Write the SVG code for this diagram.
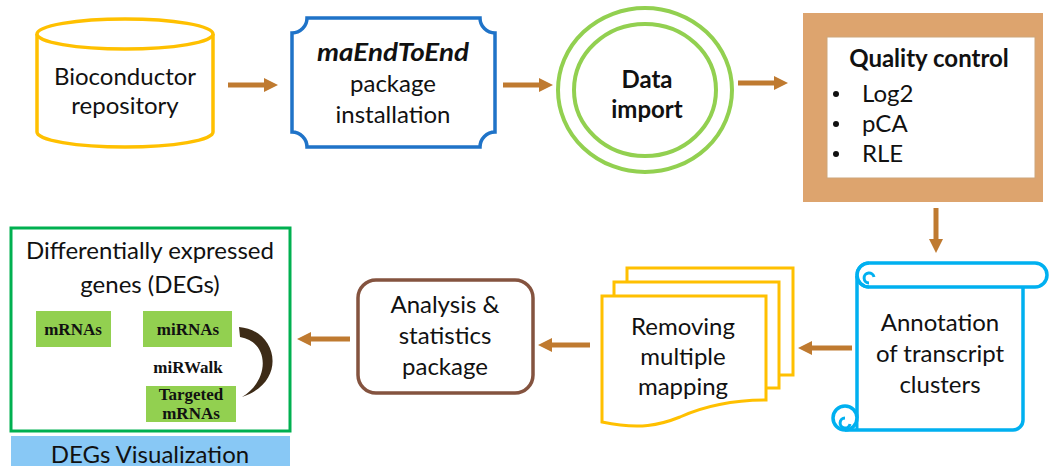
<svg xmlns="http://www.w3.org/2000/svg" width="1051" height="466" viewBox="0 0 1051 466">
<defs>
<style>
.t{font-family:Lato,"Open Sans","Liberation Sans",sans-serif;font-size:24px;fill:#111;text-anchor:middle}
.b{font-weight:bold}
.s{font-family:"Liberation Serif","DejaVu Serif",serif;font-weight:bold;font-size:17px;fill:#111;text-anchor:middle}
.arr{stroke:#BF7A30;stroke-width:5;fill:none;marker-end:url(#ah)}
.g{fill:#92D050}
</style>
<marker id="ah" markerUnits="userSpaceOnUse" markerWidth="16" markerHeight="16" refX="2" refY="8" orient="auto">
<path d="M0,1 L14,8 L0,15 z" fill="#BF7A30"/>
</marker>
</defs>
<rect width="1051" height="466" fill="#fff"/>

<g id="connectors">
<line class="arr" x1="228" y1="85" x2="266" y2="85"/>
<line class="arr" x1="503" y1="85" x2="541" y2="85"/>
<line class="arr" x1="738" y1="83" x2="776" y2="83"/>
<line class="arr" x1="936" y1="208" x2="936" y2="241"/>
<line class="arr" x1="852" y1="348" x2="810" y2="348"/>
<line class="arr" x1="590" y1="345" x2="550" y2="345"/>
<line class="arr" x1="350" y1="339" x2="309" y2="339"/>
</g>

<g id="bioconductor">
<path d="M37,34 V132 A88,15 0 0 0 213,132 V34" fill="#fff" stroke="#FFC000" stroke-width="3.5"/>
<ellipse cx="125" cy="34" rx="88" ry="15" fill="#fff" stroke="#FFC000" stroke-width="3.5"/>
<text class="t" x="125" y="85">Bioconductor</text>
<text class="t" x="125" y="114">repository</text>
</g>

<g id="maEndToEnd">
<path d="M307,18 H480 A15,15 0 0 0 495,33 V132 A15,15 0 0 0 480,147 H307 A15,15 0 0 0 292,132 V33 A15,15 0 0 0 307,18 Z" fill="#fff" stroke="#1F73C8" stroke-width="3.5"/>
<text class="t b" x="393" y="61" font-style="italic" font-size="25" textLength="152" lengthAdjust="spacingAndGlyphs">maEndToEnd</text>
<text class="t" x="393" y="92">package</text>
<text class="t" x="393" y="123">installation</text>
</g>

<g id="data-import">
<ellipse cx="645" cy="90" rx="87" ry="82" fill="#fff" stroke="#92D050" stroke-width="4"/>
<ellipse cx="645" cy="90" rx="71" ry="66" fill="#fff" stroke="#92D050" stroke-width="4"/>
<text class="t b" x="647" y="88">Data</text>
<text class="t b" x="647" y="118">import</text>
</g>

<g id="quality-control">
<rect x="803" y="13" width="240" height="189" fill="#DDA46E"/>
<rect x="827" y="37" width="208" height="141" fill="#fff" stroke="#CDA57A" stroke-width="1"/>
<text class="t b" x="929" y="67">Quality control</text>
<g font-family="Lato,'Open Sans','Liberation Sans',sans-serif" font-size="24" fill="#111">
<circle cx="836" cy="94" r="3" fill="#111"/>
<circle cx="836" cy="124" r="3" fill="#111"/>
<circle cx="836" cy="154" r="3" fill="#111"/>
<text x="862" y="102">Log2</text>
<text x="862" y="132">pCA</text>
<text x="862" y="162">RLE</text>
</g>
</g>

<g id="annotation">
<path d="M857,276 V418 M1023,287 V420 A10,10 0 0 1 1013,430 H845" fill="none" stroke="#00B0F0" stroke-width="3.5"/>
<rect x="857" y="263" width="190" height="24" rx="12" fill="#fff" stroke="#00B0F0" stroke-width="3.5"/>
<path d="M869,263 A12,12 0 0 0 869,287 M869,283 A5,5 0 1 1 874,277" fill="none" stroke="#00B0F0" stroke-width="3"/>
<circle cx="845" cy="418" r="12" fill="#fff" stroke="#00B0F0" stroke-width="3.5"/>
<path d="M845,418 A5,5 0 1 0 850,424 M857,418 V430" fill="none" stroke="#00B0F0" stroke-width="3"/>
<text class="t" x="940" y="331">Annotation</text>
<text class="t" x="940" y="362">of transcript</text>
<text class="t" x="940" y="393">clusters</text>
</g>

<g id="removing">
<rect x="627" y="268" width="166" height="107" fill="#fff" stroke="#FFC000" stroke-width="3"/>
<rect x="614" y="282" width="165" height="106" fill="#fff" stroke="#FFC000" stroke-width="3"/>
<path d="M602,296 H766 V400 C730,400 700,408 680,417 C660,425 640,430 602,422 Z" fill="#fff" stroke="#FFC000" stroke-width="3"/>
<text class="t" x="683" y="335">Removing</text>
<text class="t" x="683" y="365">multiple</text>
<text class="t" x="683" y="395">mapping</text>
</g>

<g id="analysis">
<rect x="358" y="280" width="175" height="113" rx="18" fill="#fff" stroke="#84533F" stroke-width="3.5"/>
<text class="t" x="445" y="313">Analysis &amp;</text>
<text class="t" x="445" y="344">statistics</text>
<text class="t" x="445" y="375">package</text>
</g>

<g id="degs">
<rect x="11" y="228" width="279" height="203" fill="#fff" stroke="#00B050" stroke-width="3"/>
<text class="t" x="150" y="259">Differentially expressed</text>
<text class="t" x="150" y="293">genes (DEGs)</text>
<rect class="g" x="36" y="311" width="75" height="36"/>
<rect class="g" x="143" y="311" width="89" height="36"/>
<rect class="g" x="146" y="386" width="90" height="36"/>
<text class="s" x="73" y="335">mRNAs</text>
<text class="s" x="188" y="335">miRNAs</text>
<text class="s" x="188" y="373">miRWalk</text>
<text class="s" x="191" y="400">Targeted</text>
<text class="s" x="191" y="419">mRNAs</text>
<path d="M239,327 C278,330 288,382 242,397 C270,380 270,342 240,337 Z" fill="#3D2B17"/>
</g>

<g id="degs-visualization">
<rect x="11" y="436" width="279" height="34" fill="#88C8F5"/>
<text class="t" x="150" y="463">DEGs Visualization</text>
</g>
</svg>
